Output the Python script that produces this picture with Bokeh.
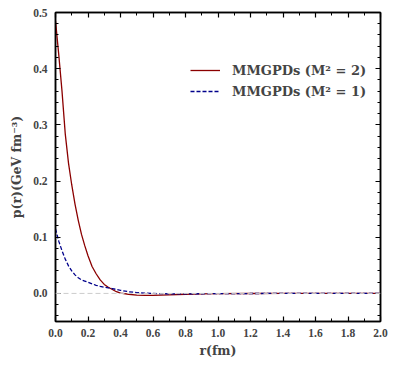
from bokeh.plotting import figure
from bokeh.models import LinearAxis, SingleIntervalTicker, PrintfTickFormatter, Range1d, Legend, LegendItem, Span
from bokeh.embed import file_html
from bokeh.resources import INLINE

r_vals = [0.0, 0.02, 0.04, 0.06, 0.08, 0.10, 0.12, 0.14, 0.16, 0.18, 0.20, 0.225, 0.25, 0.275, 0.30,
          0.325, 0.35, 0.375, 0.40, 0.45, 0.50, 0.55, 0.60, 0.65, 0.70, 0.80, 0.90, 1.0, 1.2, 1.4,
          1.6, 1.8, 2.0]
p_m2 = [0.485, 0.425, 0.36, 0.284, 0.232, 0.193, 0.159, 0.130, 0.105, 0.085, 0.067, 0.048, 0.035,
        0.024, 0.016, 0.011, 0.007, 0.003, 0.0005, -0.0015, -0.003, -0.0035, -0.0035, -0.003,
        -0.0025, -0.0015, -0.001, -0.0005, -0.0002, 0.0, 0.0, 0.0, 0.0]
p_m1 = [0.115, 0.093, 0.076, 0.061, 0.049, 0.040, 0.033, 0.028, 0.024, 0.022, 0.020, 0.017, 0.0145,
        0.0125, 0.011, 0.0098, 0.0085, 0.007, 0.0055, 0.003, 0.0015, 0.0005, 0.0, -0.0005,
        -0.0007, -0.0008, -0.0006, -0.0004, -0.0002, 0.0, 0.0, 0.0, 0.0]
label_m2 = "MMGPDs (M² = 2)"
label_m1 = "MMGPDs (M² = 1)"

FONT = "Liberation Serif"
WFONT = "DejaVu Serif"

p = figure(width=398, height=369, output_backend="svg", toolbar_location=None,
           x_range=Range1d(0, 2.0), y_range=Range1d(-0.05, 0.5),
           min_border_left=55, min_border_top=12, min_border_right=18, min_border_bottom=48,
           x_axis_location=None, y_axis_location=None)
p.grid.visible = False
p.outline_line_color = "black"
p.outline_line_width = 1.5
p.background_fill_color = "white"
p.border_fill_color = "white"

zero = Span(location=0, dimension="width", line_color="#cccccc", line_dash="5 3", line_width=1)
p.add_layout(zero)

l2 = p.line(r_vals, p_m2, line_color="#8b0000", line_width=1.3)
l1 = p.line(r_vals, p_m1, line_color="#00008b", line_width=1.3, line_dash="4 2")

def style(ax, labels):
    ax.axis_line_width = 1.5
    ax.major_tick_in = 5
    ax.major_tick_out = 0
    ax.minor_tick_in = 3
    ax.minor_tick_out = 0
    ax.major_tick_line_width = 1.2
    ax.minor_tick_line_width = 1
    ax.major_label_text_font = FONT
    ax.major_label_text_font_style = "bold"
    ax.major_label_text_font_size = "11.5px"
    ax.axis_label_text_font = WFONT
    ax.axis_label_text_font_style = "bold"
    ax.axis_label_text_font_size = "12.5px"
    ax.formatter = PrintfTickFormatter(format="%.1f")
    if not labels:
        ax.major_label_text_color = None

xt = SingleIntervalTicker(interval=0.2, num_minor_ticks=2)
yt = SingleIntervalTicker(interval=0.1, num_minor_ticks=5)

xb = LinearAxis(ticker=xt, axis_label="r(fm)")
style(xb, True)
xb.major_label_standoff = 7
xb.axis_label_standoff = 3
p.add_layout(xb, "below")
xa = LinearAxis(ticker=xt)
style(xa, False)
xa.major_label_text_font_size = "0px"
p.add_layout(xa, "above")

yl = LinearAxis(ticker=yt, axis_label="p(r)(GeV fm⁻³)")
style(yl, True)
yl.major_label_standoff = 8
yl.axis_label_standoff = 6
p.add_layout(yl, "left")
yr = LinearAxis(ticker=yt)
style(yr, False)
yr.major_label_text_font_size = "0px"
p.add_layout(yr, "right")

legend = Legend(items=[LegendItem(label=label_m2, renderers=[l2]),
                       LegendItem(label=label_m1, renderers=[l1])],
                location=(135, 221))
legend.border_line_color = None
legend.background_fill_alpha = 0
legend.label_text_font = WFONT
legend.label_text_font_style = "bold"
legend.label_text_font_size = "13px"
legend.glyph_width = 30
legend.label_standoff = 12
legend.spacing = 3
legend.padding = 0
legend.label_height = 18
legend.glyph_height = 18
p.add_layout(legend, "center")

open("out.html", "w").write(file_html(p, INLINE))
